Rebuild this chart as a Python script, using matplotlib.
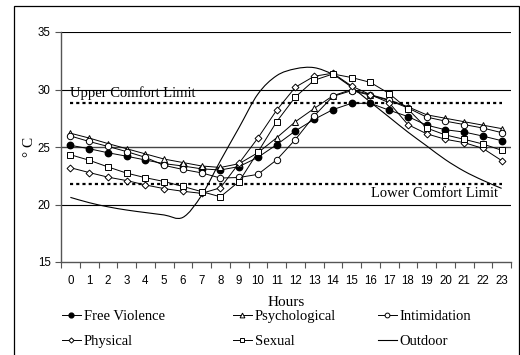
import matplotlib
matplotlib.use('Agg')
import matplotlib.pyplot as plt
from matplotlib.path import Path
from matplotlib.patches import PathPatch, Rectangle

# hourly indoor temperatures (deg C)
hours = list(range(24))
free_violence = [25.15, 24.85, 24.5, 24.2, 23.87, 23.55, 23.35, 23.1, 23.0, 23.3, 24.1, 25.2,
                 26.4, 27.4, 28.25, 28.8, 28.8, 28.2, 27.65, 26.9, 26.5, 26.3, 25.95, 25.55]
psychological = [26.2, 25.78, 25.3, 24.85, 24.4, 23.95, 23.65, 23.35, 23.22, 23.55, 24.5, 25.8,
                 27.2, 28.35, 29.45, 30.0, 29.55, 29.1, 28.5, 27.8, 27.5, 27.2, 26.9, 26.6]
intimidation = [25.96, 25.48, 25.05, 24.6, 24.1, 23.4, 23.05, 22.75, 22.3, 22.35, 22.62, 23.88,
                25.65, 27.7, 29.4, 29.9, 29.5, 29.05, 28.4, 27.6, 27.25, 26.95, 26.65, 26.25]
physical = [23.2, 22.78, 22.38, 22.08, 21.7, 21.38, 21.15, 20.97, 21.45, 23.6, 25.78, 28.2,
            30.2, 31.15, 31.42, 30.3, 29.55, 28.85, 26.95, 26.15, 25.67, 25.38, 24.88, 23.82]
sexual = [24.33, 23.85, 23.27, 22.73, 22.33, 22.0, 21.57, 21.12, 20.67, 22.0, 24.55, 27.2,
          29.35, 30.8, 31.35, 31.04, 30.62, 29.65, 28.3, 26.65, 26.05, 25.67, 25.26, 24.72]
outdoor = [20.62, 20.16, 19.8, 19.52, 19.3, 19.09, 18.88, 20.8, 23.8, 26.7, 29.6, 31.2,
           31.8, 31.9, 31.3, 30.2, 28.9, 27.6, 26.3, 25.1, 23.9, 22.9, 22.1, 21.4]
upper_limit = 28.8
lower_limit = 21.8

SERIF = 'Liberation Serif'
SANS = 'Liberation Sans'


def smooth_path(xs, ys):
    """Excel-style smoothed line as a bezier path through the points."""
    verts = [(xs[0], ys[0])]
    codes = [Path.MOVETO]
    n = len(xs)
    for i in range(n - 1):
        x0, y0 = xs[max(i - 1, 0)], ys[max(i - 1, 0)]
        x1, y1 = xs[i], ys[i]
        x2, y2 = xs[i + 1], ys[i + 1]
        x3, y3 = xs[min(i + 2, n - 1)], ys[min(i + 2, n - 1)]
        c1 = (x1 + (x2 - x0) / 6, y1 + (y2 - y0) / 6)
        c2 = (x2 - (x3 - x1) / 6, y2 - (y3 - y1) / 6)
        verts += [c1, c2, (x2, y2)]
        codes += [Path.CURVE4] * 3
    return Path(verts, codes)


fig = plt.figure(figsize=(5.2, 3.55), dpi=100)
fig.patches.append(Rectangle((14 / 520, -0.01), 505 / 520, 349 / 355 + 0.01,
                             transform=fig.transFigure, fill=False,
                             edgecolor='black', linewidth=0.9))
ax = fig.add_axes([61 / 520, 93 / 355, 450 / 520, 230 / 355])

for yv in [20, 30, 35]:
    ax.axhline(yv, color='black', linewidth=0.8, zorder=1)
ax.axhline(25, color='#444444', linewidth=1.0, zorder=1)

lw = 0.7
ms = 4.6
ax.plot(hours, free_violence, color='black', lw=lw, marker='o', ms=ms,
        mfc='black', mec='black', label='Free Violence', zorder=3)
ax.plot(hours, psychological, color='black', lw=lw, marker='^', ms=ms,
        mfc='white', mec='black', mew=0.7, label='Psychological', zorder=3)
ax.plot(hours, intimidation, color='black', lw=lw, marker='o', ms=ms,
        mfc='white', mec='black', mew=0.7, label='Intimidation', zorder=3)
ax.plot(hours, physical, color='black', lw=lw, marker='D', ms=3.5,
        mfc='white', mec='black', mew=0.7, label='Physical', zorder=3)
ax.plot(hours, sexual, color='black', lw=lw, marker='s', ms=ms,
        mfc='white', mec='black', mew=0.7, label='Sexual', zorder=3)

ax.add_patch(PathPatch(smooth_path(hours, outdoor), facecolor='none',
                       edgecolor='black', linewidth=0.8, zorder=2))
ax.plot([], [], color='black', lw=0.8, label='Outdoor')

ax.plot(hours, [upper_limit] * len(hours), color='black', lw=1.6,
        linestyle=(0, (1.4, 1.4)), zorder=2)
ax.plot(hours, [lower_limit] * len(hours), color='black', lw=1.6,
        linestyle=(0, (1.4, 1.4)), zorder=2)
ax.text(0, upper_limit + 0.25, 'Upper Comfort Limit', family=SERIF, fontsize=10.5,
        ha='left', va='bottom')
ax.text(22.8, lower_limit - 0.25, 'Lower Comfort Limit', family=SERIF, fontsize=10.5,
        ha='right', va='top')

ax.set_xlim(-0.5, 23.5)
ax.set_ylim(15, 35)
ax.set_yticks([15, 20, 25, 30, 35])
ax.set_xticks([h - 0.5 for h in hours] + [23.5])
ax.set_xticklabels([])
ax.set_xticks(hours, minor=True)
ax.set_xticklabels([str(h) for h in hours], minor=True)
ax.tick_params(axis='x', which='major', direction='out', length=4, width=0.8, color='#555555')
ax.tick_params(axis='x', which='minor', length=0, pad=9, labelsize=8.3)
ax.tick_params(axis='y', direction='out', length=4, width=0.8, color='#555555', labelsize=8.3)
for lab in ax.get_xticklabels(minor=True) + ax.get_yticklabels():
    lab.set_family(SANS)

for side in ['top', 'right']:
    ax.spines[side].set_visible(False)
for side in ['left', 'bottom']:
    ax.spines[side].set_color('#555555')
    ax.spines[side].set_linewidth(1.0)

ax.set_xlabel('Hours', family=SERIF, fontsize=11, labelpad=7)
ax.set_ylabel('° C', family=SERIF, fontsize=11, labelpad=1)

# legend: three columns placed like the original
handles, labels = ax.get_legend_handles_labels()
hmap = dict(zip(labels, handles))
columns = [(['Free Violence', 'Physical'], 62),
           (['Psychological', 'Sexual'], 233),
           (['Intimidation', 'Outdoor'], 378)]
for names, xpix in columns:
    leg = fig.legend([hmap[k] for k in names], names, loc='center left',
                     bbox_to_anchor=(xpix / 520, 26 / 355), frameon=False,
                     prop={'family': SERIF, 'size': 10.5}, handlelength=1.3,
                     handletextpad=0.2, labelspacing=0.8,
                     markerscale=0.75, borderpad=0.0, borderaxespad=0.0)

fig.savefig('out.png', dpi=100)
